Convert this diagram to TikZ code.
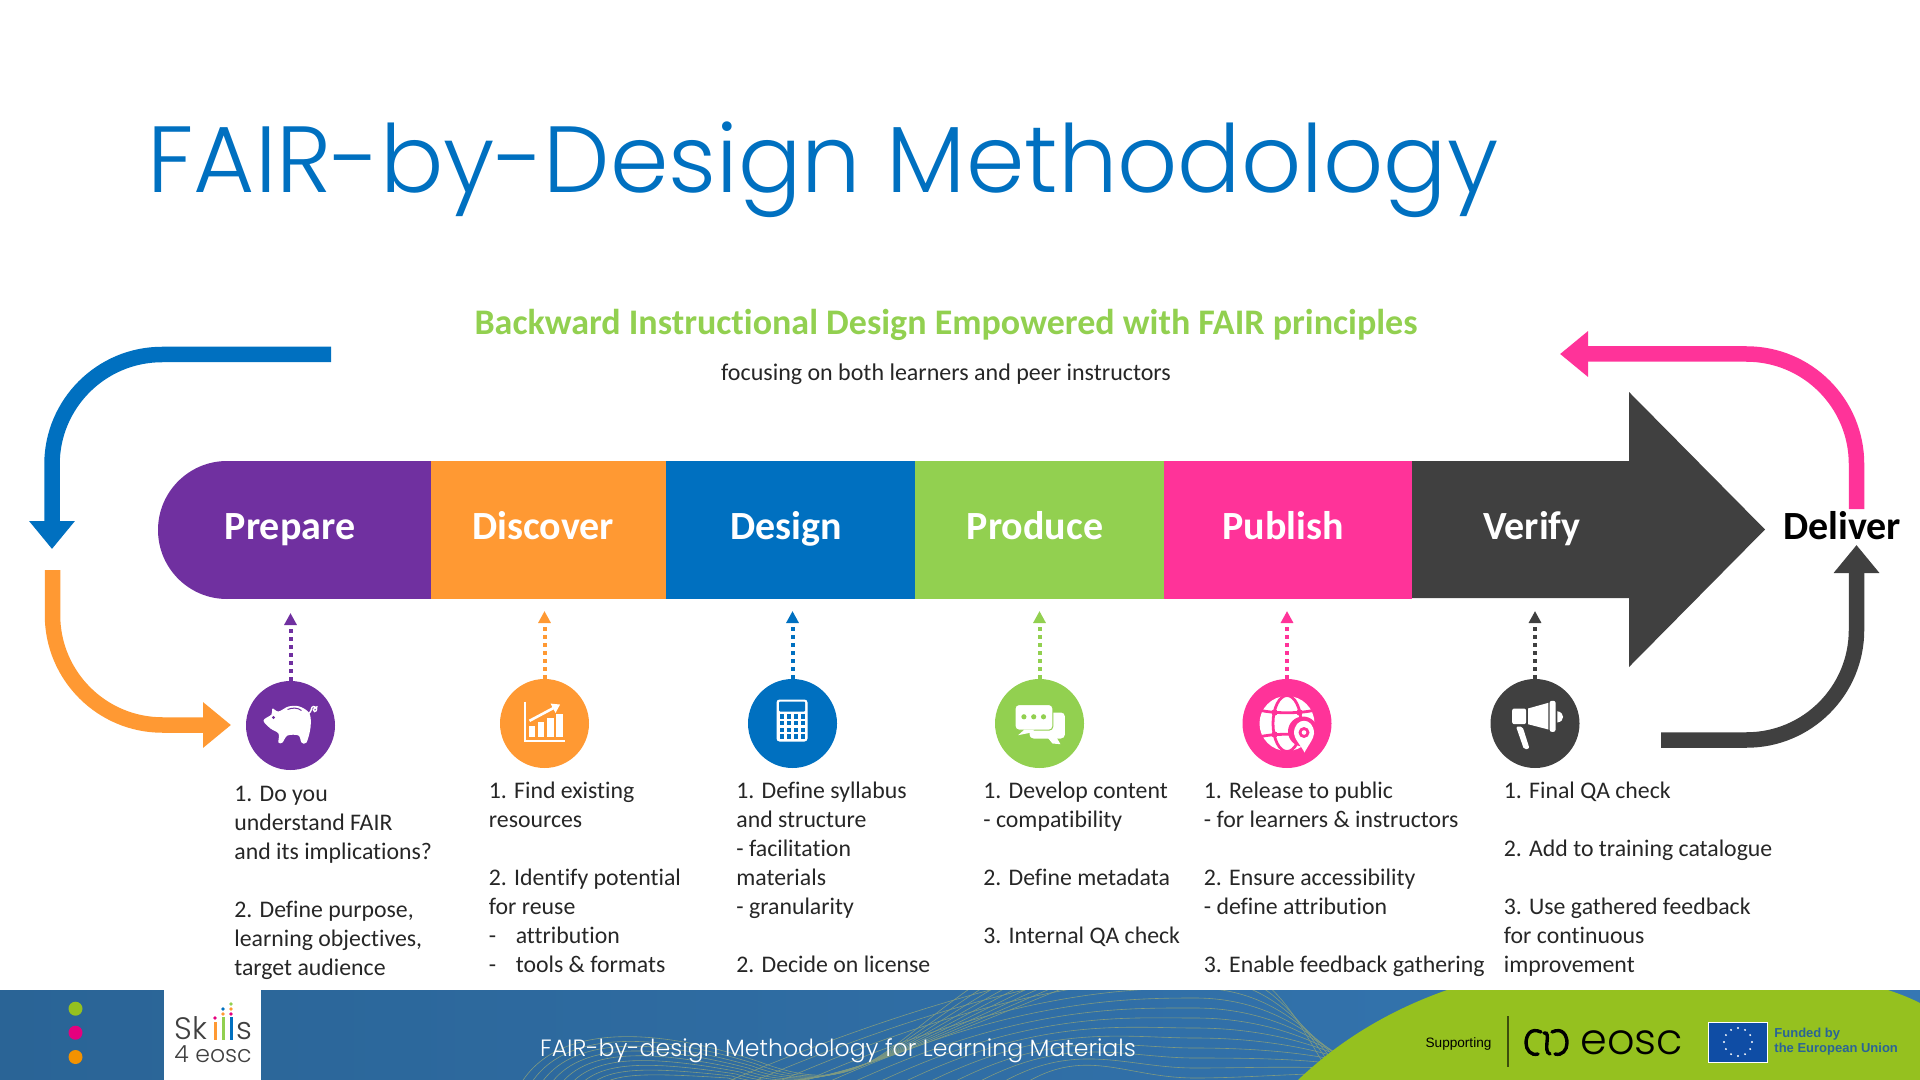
\documentclass[tikz,border=0pt]{standalone}
\usepackage{fontspec}
\setmainfont[Ligatures=NoCommon]{Carlito}
\newfontfamily\gothicfont[UprightFont=* Light]{Poppins}
\newfontfamily\arialfont{Liberation Sans}
\usetikzlibrary{arrows.meta}
\definecolor{cpurple}{HTML}{7030A0}
\definecolor{corange}{HTML}{FF9933}
\definecolor{cblue}{HTML}{0070C0}
\definecolor{cgreen}{HTML}{92D050}
\definecolor{cpink}{HTML}{FF3399}
\definecolor{cdark}{HTML}{404040}
\definecolor{footleft}{HTML}{2A6496}
\definecolor{footright}{HTML}{3577B3}
\definecolor{footgreen}{HTML}{95C11F}
\definecolor{footpink}{HTML}{E6007E}
\definecolor{footorange}{HTML}{F39200}
\definecolor{contourline}{HTML}{7F9A80}
\definecolor{eublue}{HTML}{0F4DA5}
\tikzset{
	looparrow/.style={line width=7.75pt,rounded corners=55pt,-{Triangle[length=14pt,width=22pt]}},
	dotarrow/.style={line width=2pt,dash pattern=on 2pt off 2pt,-{Triangle[length=6pt,width=6pt]}},
	iconcircle/.style={circle,minimum size=44.5pt,inner sep=0pt},
	barlabel/.style={anchor=base,text=white,font=\fontsize{20}{22}\selectfont\bfseries},
	steptext/.style={anchor=north west,inner sep=0pt,align=left,text=black!85,font=\fontsize{11.9}{14.5}\selectfont},
	contour/.style={contourline,line width=0.3pt},
	globeline/.style={cpink,line width=1.4pt}
}
\newcommand{\blankrow}{\\[14.5pt]}
\begin{document}
\begin{tikzpicture}[x=0.5pt,y=-0.5pt]
	\useasboundingbox (0,0) rectangle (1920,1080);
	%title
	\node[anchor=base west,inner sep=0pt,text=cblue,font=\fontsize{47}{50}\gothicfont] (title) at (147,193) {FAIR-by-Design Methodology};
	\node[text=cgreen,font=\fontsize{18}{20}\selectfont\bfseries] (subtitle) at (946,324.5) {Backward Instructional Design Empowered with FAIR principles};
	\node[text=black!85,font=\fontsize{12}{14}\selectfont] (focus) at (946,374.5) {focusing on both learners and peer instructors};
	%main arrow
	\fill[cpurple] (227,530) circle (69);
	\fill[cpurple] (227,461) rectangle (431,599);
	\foreach \xa/\xb/\col in {431/666/corange,666/915/cblue,915/1164/cgreen,1164/1412/cpink}
	\fill[\col] (\xa,461) rectangle (\xb,599);
	\fill[cdark] (1412,461) -- (1629,461) -- (1629,392) -- (1765,529.5) -- (1629,667) -- (1629,598) -- (1412,598) -- cycle;
	\foreach \nm/\lx in {Prepare/290,Discover/543,Design/786,Produce/1035,Publish/1283,Verify/1532}
	\node[barlabel] (label\nm) at (\lx,539.5) {\nm};
	\node[barlabel,text=black] (labelDeliver) at (1842,539.5) {Deliver};
	%loop arrows
	\coordinate (blueStart) at (331,354.5);
	\coordinate (blueEnd) at (52,549);
	\coordinate (orangeStart) at (52.5,570);
	\coordinate (orangeEnd) at (231,725);
	\coordinate (pinkStart) at (1856.5,509);
	\coordinate (pinkEnd) at (1560,354);
	\coordinate (darkStart) at (1661,740);
	\coordinate (darkEnd) at (1856.5,545);
	\draw[looparrow,cblue] (blueStart) -| (blueEnd);
	\draw[looparrow,corange] (orangeStart) |- (orangeEnd);
	\draw[looparrow,cpink] (pinkStart) |- (pinkEnd);
	\draw[looparrow,cdark] (darkStart) -| (darkEnd);
	%circles with dotted arrows
	\foreach \nm/\col/\cx/\cy/\ty in {Prepare/cpurple/290.5/725.5/613,Discover/corange/544.5/723.5/611,Design/cblue/792.5/723.5/611,Produce/cgreen/1039.5/723.5/611,Publish/cpink/1287/723.5/611,Verify/cdark/1535/723.5/611}{
		\node[iconcircle,fill=\col] (icon\nm) at (\cx,\cy) {};
		\coordinate (tip\nm) at (\cx,\ty);
		\draw[dotarrow,\col] (icon\nm) -- (tip\nm);
	}
	%pig
	\begin{scope}[shift={(290.5,725.5)}]
		\fill[white] plot[smooth cycle,tension=0.55] coordinates {(-27,-5) (-19,-11) (-18,-17) (-12,-14) (-2,-19) (9,-19) (19,-12) (20,2) (16,17) (11,17) (8,10) (-3,10) (-8,17) (-12,17) (-12,8) (-20,3)};
		\draw[cpurple,line width=0.5pt] (-3,-16) .. controls (2,-18) and (7,-18) .. (11,-15);
		\fill[cpurple] (-17,-8) circle (1.7);
		\draw[white,line width=0.7pt] (18,-12) .. controls (22,-14) and (20,-19) .. (23,-19) .. controls (27,-19) and (27,-14) .. (24,-14) .. controls (22,-14) and (22,-17) .. (27,-19);
	\end{scope}
	%chart
	\begin{scope}[shift={(544.5,723.5)}]
		\draw[white,line width=1pt] (-19.5,-22) -- (-19.5,17) -- (20.5,17);
		\foreach \xa/\xb/\ya in {-15.6/-9.4/2.7,-6.7/-0.4/-1.3,2.7/9/-6,11.6/18/-10}
		\fill[white] (\xa,\ya) rectangle (\xb,13.7);
		\draw[white,line width=1.3pt,-{Triangle[length=4pt,width=5pt]}] (-15,-2.7) -- (15.6,-19);
	\end{scope}
	%calculator
	\begin{scope}[shift={(792.5,723.5)}]
		\fill[white,rounded corners=1.5pt] (-16,-24) rectangle (15,18);
		\fill[cblue,rounded corners=0.5pt] (-13.4,-22) rectangle (12.5,-12);
		\foreach \y in {-9.5,-2.8,4,10.7} \foreach \x in {-13,-6,1,8}
		\fill[cblue] (\x,\y) rectangle ++(4.5,4.5);
	\end{scope}
	%chat
	\begin{scope}[shift={(1039.5,723.5)}]
		\fill[white,rounded corners=2pt] (-10,-11) rectangle (25.4,15);
		\fill[white] (8,14) -- (13,20) -- (21,20.7) -- (17,14) -- cycle;
		\fill[white,draw=cgreen,line width=0.5pt,rounded corners=2pt] (-24.5,-19) rectangle (13.4,6.7);
		\fill[white] (-15,6) -- (-21.4,11.7) -- (-8,9) -- (-5,6) -- cycle;
		\foreach \x in {-15.6,-5.8,4}
		\fill[cgreen] (\x,-6.7) circle (2.6);
	\end{scope}
	%globe
	\begin{scope}[shift={(1287,723.5)}]
		\fill[white] (0,0) circle (27.5);
		\draw[globeline] (0,0) ellipse (14 and 28);
		\draw[globeline] (-26,-13) .. controls (-12,-10) and (12,-10) .. (26,-13);
		\draw[globeline] (-26,13) .. controls (-12,10) and (12,10) .. (26,13);
		\foreach \x in {-12.5,12.5} \foreach \y in {-11,11}
		\fill[cpink] (\x,\y) circle (3.2);
		\fill[cpink] (16,8) circle (15);
		\fill[white] (7,10) .. controls (7,-7) and (27,-7) .. (27,10) .. controls (27,15) and (21,22) .. (17.5,29) .. controls (14,22) and (7,15) .. (7,10) -- cycle;
		\fill[cpink] (17,9) circle (5.5);
		\fill[white] (17,9) circle (2.3);
	\end{scope}
	%megaphone
	\begin{scope}[shift={(1535,723.5)}]
		\fill[white,rounded corners=1pt] (-22.8,-15) rectangle (-9,0.7);
		\fill[white] (-7,-15) -- (13.4,-20.7) -- (13.4,6) -- (-7,0.7) -- cycle;
		\fill[white,rounded corners=1pt] (14.7,-22.7) rectangle (20.5,8.3);
		\fill[white] (22.3,-12.3) .. controls (30,-11) and (30,-2) .. (22.3,-1) -- cycle;
		\fill[white,rounded corners=1pt] (-19,3) -- (-12.5,3) -- (-5.5,25) -- (-11,26) -- cycle;
	\end{scope}
	%step texts
	\node[steptext] (textPrepare) at (234,785.5) {1. Do you\\understand FAIR\\and its implications?\blankrow 2. Define purpose,\\learning objectives,\\target audience};
	\node[steptext] (textDiscover) at (488.5,781.5) {1. Find existing\\resources\blankrow 2. Identify potential\\for reuse\\-\hspace{9.8pt}attribution\\-\hspace{9.8pt}tools \& formats};
	\node[steptext] (textDesign) at (736,781.5) {1. Define syllabus\\and structure\\- facilitation\\materials\\- granularity\blankrow 2. Decide on license};
	\node[steptext] (textProduce) at (983,781.5) {1. Develop content\\- compatibility\blankrow 2. Define metadata\blankrow 3. Internal QA check};
	\node[steptext] (textPublish) at (1203.5,781.5) {1. Release to public\\- for learners \& instructors\blankrow 2. Ensure accessibility\\- define attribution\blankrow 3. Enable feedback gathering};
	\node[steptext] (textVerify) at (1503.5,781.5) {1. Final QA check\blankrow 2. Add to training catalogue\blankrow 3. Use gathered feedback\\for continuous\\improvement};
	%footer
	\shade[left color=footleft,right color=footright] (0,990) rectangle (1920,1080);
	\begin{scope}
		\clip (261,990) rectangle (1920,1080);
		\foreach \i in {0,...,8}
		\draw[contour] (520+10*\i,1085) .. controls (555+8*\i,1025+6*\i) and (650,1025+6*\i) .. (760-4*\i,1062+2*\i) .. controls (860-8*\i,1100) and (880+4*\i,1050) .. (975+12*\i,985);
		\foreach \i in {-4,...,8}
		\draw[contour] (800+26*\i,1095) .. controls (1000+10*\i,1000+5*\i) and (1120,998+10*\i) .. (1195,998+10*\i) .. controls (1290,998+10*\i) and (1340+8*\i,1060) .. (1380+8*\i,1095);
	\end{scope}
	\fill[footgreen] (1298,1080) .. controls (1340,1040) and (1390,1010) .. (1447,990) -- (1888,990) .. controls (1900,994) and (1910,998) .. (1920,1003) -- (1920,1080) -- cycle;
	\fill[white] (164,990) rectangle (261,1080);
	\foreach \y/\col in {1008.7/footgreen,1032.7/footpink,1057/footorange}
	\fill[\col] (75.5,\y) circle (7);
	%skills logo
	\node[anchor=base west,inner sep=0pt,text=black!75,font=\fontsize{15.5}{18}\gothicfont] (logoSk) at (174,1039) {Sk};
	\node[anchor=base west,inner sep=0pt,text=black!75,font=\fontsize{15.5}{18}\gothicfont] (logoS) at (236,1039) {s};
	\node[anchor=base west,inner sep=0pt,text=black!75,font=\fontsize{11.8}{14}\gothicfont] (logoFour) at (174,1062) {4 eosc};
	\foreach \x/\ya/\col in {215/1022/corange,223/1017/cgreen,231/1017/cblue}
	\fill[\col] (\x-1.5,\ya) rectangle (\x+1.5,1039.5);
	\foreach \x/\y/\col in {215/1018/footpink,223/1014/corange,223/1009/cblue,231/1014/footpink,231/1009/corange,231/1004/cgreen}
	\fill[\col] (\x,\y) circle (1.8);
	\node[text=white,font=\fontsize{11.8}{14}\gothicfont] (footTitle) at (838,1050.5) {FAIR-by-design Methodology for Learning Materials};
	%eosc and flag
	\node[text=black,font=\fontsize{6.8}{8}\arialfont] (supporting) at (1458.5,1044) {Supporting};
	\coordinate (ruleTop) at (1508,1016);
	\coordinate (ruleEnd) at (1508,1067);
	\draw[black!60!footgreen,line width=0.6pt] (ruleTop) -- (ruleEnd);
	\draw[black,line width=1.7pt,line cap=round] (1541,1032) .. controls (1530,1027) and (1526,1036) .. (1526,1043) .. controls (1526,1050) and (1531,1056) .. (1538,1054);
	\draw[black,line width=1.7pt,line cap=round] (1544,1033) .. controls (1552,1031) and (1542,1052) .. (1550,1054);
	\draw[black,line width=1.7pt,line cap=round] (1552,1032) .. controls (1563,1027) and (1567,1036) .. (1567,1043) .. controls (1567,1050) and (1562,1056) .. (1555,1054);
	\node[anchor=base west,inner sep=0pt,text=black,font=\fontsize{21.5}{24}\gothicfont] (eoscWord) at (1580,1054) {eosc};
	\fill[eublue,draw=white,line width=0.5pt] (1708.6,1022) rectangle (1767.8,1062);
	\foreach \a in {0,30,...,330}
	\fill[white] (1738,1042) ++(\a:14) circle (1.1);
	\node[anchor=west,inner sep=0pt,align=left,text=footleft,font=\fontsize{6.5}{7.5}\arialfont\bfseries] (funded) at (1774,1042) {Funded by\\the European Union};
\end{tikzpicture}
\end{document}
